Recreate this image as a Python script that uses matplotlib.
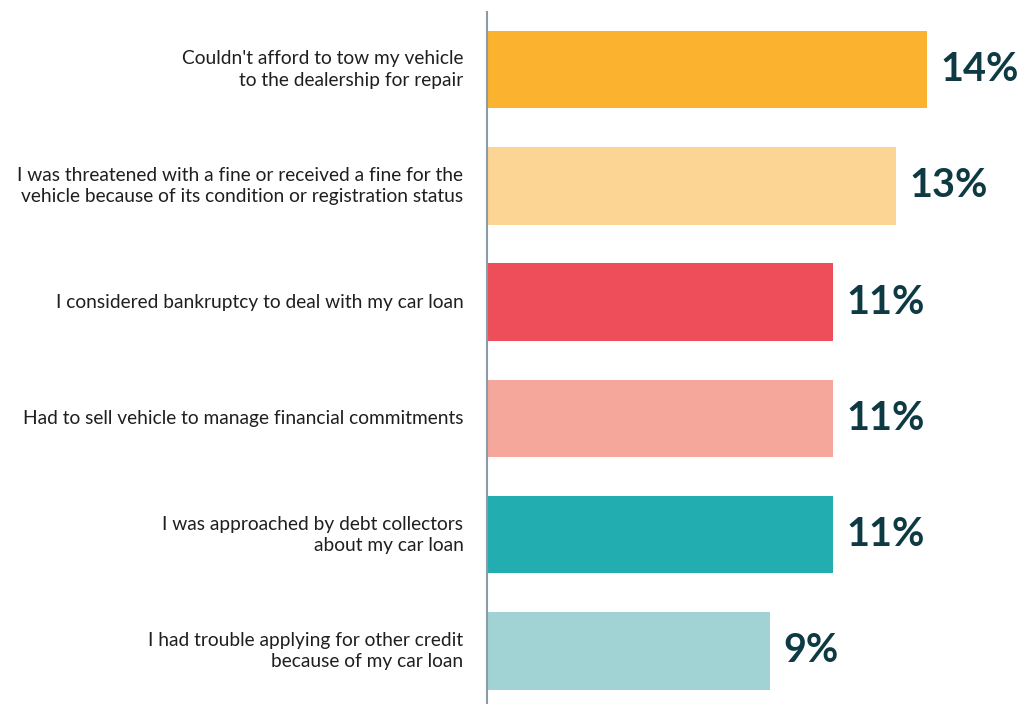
#!/usr/bin/env python3
import matplotlib

matplotlib.use("Agg")
import matplotlib.pyplot as plt

CATEGORIES = [
    "Couldn't afford to tow my vehicle\nto the dealership for repair",
    "I was threatened with a fine or received a fine for the\nvehicle because of its condition or registration status",
    "I considered bankruptcy to deal with my car loan",
    "Had to sell vehicle to manage financial commitments",
    "I was approached by debt collectors\nabout my car loan",
    "I had trouble applying for other credit\nbecause of my car loan",
]
SHARES = [14, 13, 11, 11, 11, 9]
BAR_COLORS = ["#FBB32F", "#FCD594", "#EE4E59", "#F6A79B", "#22AEB1", "#A2D3D4"]

LABEL_COLOR = "#1F1F1F"
VALUE_COLOR = "#0E3A44"
AXIS_COLOR = "#8A9BA8"

plt.rcParams["font.family"] = ["Lato", "DejaVu Sans"]

fig = plt.figure(figsize=(10.2, 7.04), dpi=100)
fig.patch.set_facecolor("white")
ax = fig.add_axes([487 / 1020, 0.0, 1 - 487 / 1020, 1 - 12 / 704])

ypos = list(range(len(CATEGORIES)))
ax.barh(ypos, SHARES, height=0.667, color=BAR_COLORS, edgecolor="none")

for y, val in zip(ypos, SHARES):
    ax.annotate(
        f"{val}%",
        xy=(val, y),
        xytext=(10, 0),
        textcoords="offset points",
        ha="left",
        va="center",
        fontsize=28.5,
        fontweight="bold",
        color=VALUE_COLOR,
    )

for y, label in zip(ypos, CATEGORIES):
    ax.annotate(
        label,
        xy=(0, y),
        xytext=(-17, 0),
        textcoords="offset points",
        ha="right",
        va="center",
        fontsize=13.8,
        color=LABEL_COLOR,
        linespacing=1.3,
        annotation_clip=False,
    )

ax.set_ylim(5.456, -0.494)
ax.set_xlim(0, 533 / 31.43)
ax.set_xticks([])
ax.set_yticks([])
for name in ("top", "right", "bottom"):
    ax.spines[name].set_visible(False)
ax.spines["left"].set_color(AXIS_COLOR)
ax.spines["left"].set_linewidth(1.5)

fig.savefig("out.png", dpi=100)
